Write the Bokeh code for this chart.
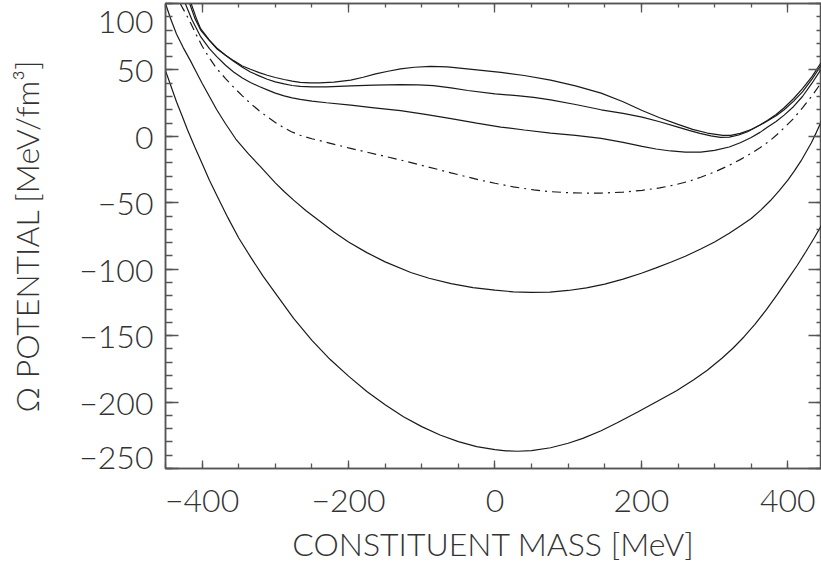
from bokeh.plotting import figure
from bokeh.models import LinearAxis, Range1d, SingleIntervalTicker
from bokeh.embed import file_html
from bokeh.resources import INLINE

FONT = "Lato Light"
TXT = "#333333"
AX = "#555555"
FS = "32px"

x_ticks = [-400, -200, 0, 200, 400]
x_tick_labels = ["\u2212400", "\u2212200", "0", "200", "400"]
y_ticks = [-250, -200, -150, -100, -50, 0, 50, 100]
y_tick_labels = ["\u2212250", "\u2212200", "\u2212150", "\u2212100", "\u221250", "0", "50", "100"]

x_title = "CONSTITUENT MASS [MeV]"
y_title = "\u03a9 POTENTIAL [MeV/fm\u00b3]"

a_x = [-417, -410, -402, -390, -380, -368, -357, -345, -334, -322, -311, -300, -288, -277, -266, -253, -240, -220, -197, -180, -163, -146, -129, -110, -88, -65, -38, -15, 8, 40, 76, 110, 145, 175, 201, 225, 250, 270, 290, 311, 322, 335, 350, 362, 372, 384, 395, 408, 420, 433, 446]
a_y = [100, 89, 80, 72, 66, 61, 57, 53, 50.5, 48, 46, 44.3, 42.8, 41.6, 40.7, 40.2, 40.2, 40.8, 42.3, 44.5, 47, 49, 50.8, 52, 52.7, 52.3, 50.8, 49.5, 48.2, 45.8, 42.3, 38, 32.5, 26, 19.5, 14, 9, 5.3, 2.5, 0.7, 0.7, 2.2, 5.2, 8.5, 12, 16.5, 21.5, 28.5, 36, 45, 56]

b_x = [-415, -408, -402, -390, -380, -368, -357, -345, -334, -322, -311, -300, -288, -277, -266, -250, -230, -197, -165, -129, -105, -84, -60, -37, 0, 30, 53, 76, 110, 145, 175, 201, 225, 250, 265, 280, 295, 308, 320, 333, 345, 357, 372, 384, 395, 408, 420, 433, 446]
b_y = [100, 89, 81, 72.5, 66.5, 61, 56.5, 52, 48.5, 45.5, 43, 41, 39.5, 38.3, 37.6, 37.3, 37.3, 38, 38.6, 38.9, 38.8, 38.2, 36.5, 34.5, 32, 30.6, 29.3, 27.5, 24, 20, 17.3, 14.5, 11, 7, 4.5, 2.2, 0.3, -0.8, -0.6, 1, 3.5, 7, 11.5, 15.5, 20, 26.5, 33.5, 43, 54]

c_x = [-423, -414, -402, -390, -380, -368, -357, -345, -334, -322, -311, -300, -288, -277, -266, -250, -230, -197, -165, -129, -95, -60, -25, 8, 40, 76, 110, 145, 175, 201, 220, 240, 260, 281, 300, 320, 335, 350, 362, 372, 384, 395, 408, 420, 433, 446]
c_y = [100, 88, 75, 66, 60, 53.5, 48.5, 44, 40.5, 37.5, 35, 32.5, 30.5, 29, 27.8, 26.5, 25.3, 23.5, 21.5, 19.3, 16.5, 13.3, 10, 7, 4.8, 2.5, 0.7, -1.5, -4.5, -7.5, -9.5, -11, -11.8, -11.9, -10.5, -8, -4.8, -0.8, 3, 6.8, 11.2, 16, 22.5, 30, 40, 51]

d_x = [-430, -422, -415, -408, -400, -390, -380, -368, -357, -345, -334, -322, -310, -300, -290, -278, -266, -250, -230, -200, -160, -129, -100, -80, -60, -38, -20, 0, 25, 53, 75, 100, 125, 145, 175, 201, 225, 245, 265, 281, 300, 320, 335, 350, 362, 375, 385, 395, 408, 420, 433, 446]
d_y = [100, 92, 84.5, 76.5, 68, 59, 51, 43.5, 37, 30.5, 24.8, 19.3, 14.3, 10.5, 7, 3.5, 0.8, -1.8, -4.5, -8.7, -13.8, -17.8, -21.8, -24.6, -27.5, -30.5, -33, -35.3, -38, -40.3, -41.6, -42.4, -42.7, -42.7, -42, -40.6, -38.8, -36.6, -33.8, -30.8, -26.8, -21.8, -17.5, -12.8, -8.5, -3.5, 1.2, 6.5, 13.5, 21.5, 30.5, 40.7]

e_x = [-450, -443, -435, -426, -416, -408, -400, -390, -380, -368, -354, -337, -320, -300, -288, -275, -258, -240, -220, -200, -175, -150, -115, -90, -60, -30, 0, 25, 49, 75, 100, 125, 150, 175, 200, 220, 240, 260, 281, 300, 320, 335, 350, 363, 376, 388, 400, 409, 418, 425, 432, 439, 446]
e_y = [100, 88.5, 77, 67, 57, 48.5, 40, 30, 20, 9.5, -2, -13, -23, -35, -41.5, -48, -56, -63.5, -72, -79.5, -87.5, -94.5, -102.5, -106.8, -110.8, -113.8, -115.8, -117, -117.5, -117.2, -116, -114, -111.2, -107.5, -103, -99, -94.8, -90.2, -84.8, -79.5, -73, -67.5, -61.8, -55.5, -48.5, -41, -33, -26, -18.5, -11.8, -5, 3, 11.5]

f_x = [-450, -442, -435, -427, -420, -410, -400, -390, -379, -365, -350, -333, -317, -300, -275, -250, -225, -200, -175, -150, -125, -100, -75, -50, -25, 0, 15, 31, 50, 76, 100, 120, 145, 167, 195, 220, 248, 272, 290, 310, 325, 340, 355, 370, 385, 400, 413, 425, 436, 446]
f_y = [49.5, 37, 26, 15, 5, -8, -20.5, -33, -45.5, -61, -76.5, -91.5, -105, -118, -137, -153.5, -168, -180.5, -192, -202, -211, -218.5, -224.8, -229.8, -233.5, -235.8, -236.7, -237, -236.6, -234.4, -231, -227.3, -221.6, -215.5, -207.5, -200, -191.5, -183, -176, -167, -159.5, -151, -141.5, -131, -119.5, -107.5, -97, -86.5, -76.5, -67]

solid_curves = [(a_x, a_y), (b_x, b_y), (c_x, c_y), (e_x, e_y), (f_x, f_y)]

p = figure(width=821, height=566, output_backend="svg", toolbar_location=None,
           x_range=Range1d(-450, 446), y_range=Range1d(-250, 100),
           x_axis_location=None, y_axis_location=None,
           min_border_left=165, min_border_right=0, min_border_top=3, min_border_bottom=98)
p.grid.visible = False
p.outline_line_color = AX
p.outline_line_width = 1.5
p.background_fill_color = "white"
p.border_fill_color = "white"

for xs, ys in solid_curves:
    p.line(xs, ys, line_color="#1a1a1a", line_width=1.2)
p.line(d_x, d_y, line_color="#1a1a1a", line_width=1.2, line_dash="9 5 2 5")

xt = SingleIntervalTicker(interval=200, num_minor_ticks=4)
yt = SingleIntervalTicker(interval=50, num_minor_ticks=5)

def style(ax):
    ax.axis_line_color = AX
    ax.axis_line_width = 1.5
    ax.major_tick_line_color = AX
    ax.minor_tick_line_color = AX
    ax.major_tick_line_width = 1.3
    ax.minor_tick_line_width = 1.3
    ax.major_tick_out = 0
    ax.minor_tick_out = 0
    ax.major_label_text_font = FONT
    ax.major_label_text_color = TXT
    ax.axis_label_text_font = FONT
    ax.axis_label_text_color = TXT
    ax.axis_label_text_font_style = "normal"

xb = LinearAxis(ticker=xt, axis_label=x_title)
style(xb)
xb.major_tick_in = 8
xb.minor_tick_in = 5
xb.major_label_text_font_size = FS
xb.axis_label_text_font_size = FS
xb.major_label_standoff = 21
xb.axis_label_standoff = 9
xb.major_label_overrides = dict(zip(x_ticks, x_tick_labels))
p.add_layout(xb, "below")

yl = LinearAxis(ticker=yt, axis_label=y_title)
style(yl)
yl.major_tick_in = 13
yl.minor_tick_in = 7
yl.major_label_text_font_size = FS
yl.axis_label_text_font_size = FS
yl.major_label_standoff = 12
yl.axis_label_standoff = 30
yl.major_label_text_line_height = 0.62
ov = dict(zip(y_ticks, y_tick_labels))
# the bottom label sits inside the frame height, as in the original
ov[y_ticks[0]] = y_tick_labels[0] + "\n\u00a0"
yl.major_label_overrides = ov
p.add_layout(yl, "left")

xa = LinearAxis(ticker=xt)
style(xa)
xa.major_tick_in = 9
xa.minor_tick_in = 4
xa.major_label_text_font_size = "0px"
xa.major_label_standoff = 0
xa.major_label_text_alpha = 0
p.add_layout(xa, "above")

yr = LinearAxis(ticker=yt)
style(yr)
yr.major_tick_in = 13
yr.minor_tick_in = 5
yr.major_label_text_font_size = "0px"
yr.major_label_standoff = 0
yr.major_label_text_alpha = 0
p.add_layout(yr, "right")

open("out.html", "w").write(file_html(p, INLINE))
